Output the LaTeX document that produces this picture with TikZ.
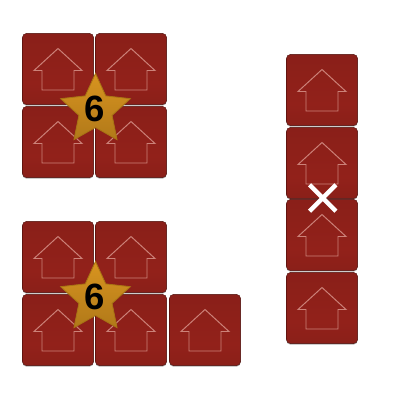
\documentclass[tikz,border=0pt]{standalone}
\usepackage{fontspec}
\setmainfont{Liberation Sans}
\usetikzlibrary{shapes.geometric, shapes.misc, shadows}
\definecolor{tilered}{HTML}{92211A}
\definecolor{tileedge}{HTML}{5E120C}
\definecolor{houseline}{HTML}{CC8279}
\definecolor{stargold}{HTML}{D8941F}
\definecolor{staredge}{HTML}{A87414}

\pgfdeclareverticalshading{tileshade}{100bp}{
    color(0bp)=(tileedge); color(5bp)=(tilered!88!black); color(40bp)=(tilered);
    color(90bp)=(tilered!92!black); color(97bp)=(tilered!75!black); color(100bp)=(tileedge)}

\tikzset{
    tile/.style={rectangle, rounded corners=3pt, minimum size=1.78cm, inner sep=0pt,
                draw=tileedge!80!black, line width=0.3pt, shading=tileshade,
                drop shadow={shadow xshift=0pt, shadow yshift=-0.8pt, opacity=0.3, fill=black}},
    badge/.style={star, star points=5, star point ratio=2.1, minimum size=1.83cm, inner sep=0pt,
                draw=staredge, line width=0.6pt, top color=stargold, bottom color=stargold!82!black},
    digit/.style={inner sep=0pt, font=\bfseries\fontsize{26}{26}\selectfont, text=black},
    crossmark/.style={cross out, draw=white, line width=1.1mm, minimum size=0.55cm, inner sep=0pt},
    house/.pic={
        \draw[houseline, line width=0.7pt, line join=miter]
            (-16,21) -- (-16,1.5) -- (-24,1.5) -- (0,-20.5) -- (24,1.5) -- (16,1.5) -- (16,21) -- cycle;
    },
}

\begin{document}
\begin{tikzpicture}[x=0.025cm, y=-0.025cm]
\useasboundingbox (0,0) rectangle (400,400);

% Upper square
\foreach \name/\px/\py in {a/58/69, b/131/69, c/58/142, d/131/142} {
    \node[tile] (\name) at (\px,\py) {};
    \pic at (\px,\py) {house};
}

% Lower square with extra tile
\foreach \name/\px/\py in {e/58/257, f/131/257, g/58/330, h/131/330, i/205/330} {
    \node[tile] (\name) at (\px,\py) {};
    \pic at (\px,\py) {house};
}

% Column
\foreach \name/\px/\py in {j/322/90, k/322/163, l/322/235, m/322/308} {
    \node[tile] (\name) at (\px,\py) {};
    \pic at (\px,\py) {house};
}

% Stars
\node[badge] (topstar) at (95.5,110) {};
\node[badge] (lowstar) at (95.5,298) {};
\node[digit] (topsix) at (94.3,108.5) {6};
\node[digit] (lowsix) at (94.3,296.5) {6};

% Cross
\node[crossmark] (cross) at (322.7,198) {};

\end{tikzpicture}
\end{document}
